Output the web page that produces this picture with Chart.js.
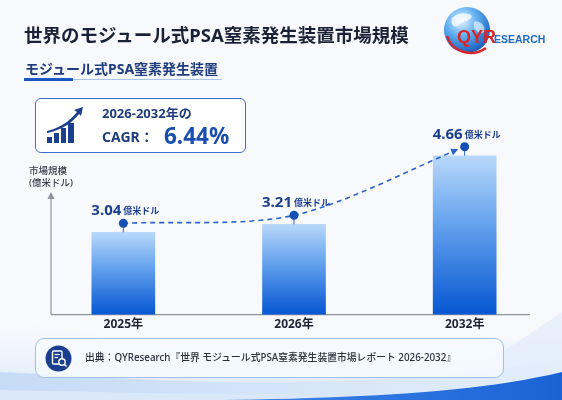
<!DOCTYPE html>
<html>
<head>
<meta charset="utf-8">
<script src="https://cdn.jsdelivr.net/npm/chart.js@4.4.1/dist/chart.umd.min.js"></script>
<style>
  html, body { margin: 0; padding: 0; }
  body { width: 562px; height: 400px; position: relative; overflow: hidden; background: #f8f9fc;
         font-family: "Noto Sans", "Noto Sans CJK JP", sans-serif; }
  .abs { position: absolute; white-space: nowrap; }
  #bg { position: absolute; left: 0; top: 0; }
  #chart { position: absolute; left: 0; top: 0; }
  .title { left: 24px; top: 24px; font-size: 18.5px; line-height: 22px; font-weight: 700; color: #1a2238; }
  .sub { left: 25px; top: 60px; font-size: 14px; line-height: 17px; font-weight: 700; color: #1f3c7e; }
  .subline { left: 24px; top: 79px; width: 198px; height: 1px; background: #a9c3ea; }
  .subline2 { left: 24px; top: 78px; width: 49px; height: 3px; background: #1c56c0; }
  .cagr { left: 35px; top: 98px; width: 209px; height: 53px; border: 1.3px solid #3b6fcf; border-radius: 6px; background: #fff; }
  .c1 { left: 102px; top: 105px; font-size: 13px; line-height: 17px; font-weight: 700; color: #1f3c7e; }
  .c2 { left: 102px; top: 128px; font-size: 14px; line-height: 18px; font-weight: 700; color: #1f3c7e; }
  .c3 { left: 164px; top: 122px; font-size: 22.5px; line-height: 27px; font-weight: 700; color: #1a4fb0; }
  .ytitle { left: 29px; font-size: 9.5px; line-height: 12px; color: #3a3f4a; font-weight: 500; }
  .foot { left: 35px; top: 338px; width: 467px; height: 38px; border: 1px solid #9fc0ee; border-radius: 9px; background: rgba(246,250,255,0.85); }
  .ftext { left: 85px; top: 351px; font-size: 9.8px; line-height: 14px; color: #2a2f3a; font-weight: 500; }
  .logo1 { left: 457px; top: 27px; font-family: "Liberation Sans", Arial, sans-serif; font-weight: 700; font-size: 18px; line-height: 20px; color: #d7262b; }
  .logo2 { left: 494px; top: 33px; font-family: "Liberation Sans", Arial, sans-serif; font-weight: 700; font-size: 10.5px; line-height: 12px; color: #1e6cc4; }
</style>
</head>
<body>
<svg id="bg" width="562" height="400">
  <defs>
    <linearGradient id="w1" x1="0" y1="0" x2="0" y2="1">
      <stop offset="0" stop-color="#eef4fd" stop-opacity="0"/>
      <stop offset="1" stop-color="#d5e5fa"/>
    </linearGradient>
    <linearGradient id="w2" x1="0" y1="0" x2="1" y2="0">
      <stop offset="0" stop-color="#c6dbf6"/>
      <stop offset="1" stop-color="#e4eefb"/>
    </linearGradient>
    <linearGradient id="w3" x1="0" y1="0" x2="1" y2="0">
      <stop offset="0" stop-color="#3f86e8"/>
      <stop offset="1" stop-color="#1a63d6"/>
    </linearGradient>
    <radialGradient id="globe" cx="0.38" cy="0.3" r="0.75">
      <stop offset="0" stop-color="#e6f3ff"/>
      <stop offset="0.45" stop-color="#5fb0f0"/>
      <stop offset="1" stop-color="#1456b8"/>
    </radialGradient>
  </defs>
  <path d="M0,318 C120,335 260,392 562,330 L562,400 L0,400 Z" fill="url(#w1)"/>
  <path d="M380,400 C470,380 520,340 562,312 L562,400 Z" fill="#e3eefb" opacity="0.8"/>
  <path d="M0,372 C160,380 330,396 562,360 L562,400 L0,400 Z" fill="url(#w2)"/>
  <path d="M0,390 C200,394 380,400 562,386 L562,400 L0,400 Z" fill="#dbe8fa"/>
  <path d="M220,400 C360,398 480,392 562,372 L562,400 Z" fill="url(#w3)"/>
  <circle cx="467" cy="30" r="23" fill="url(#globe)"/>
  <path d="M452,18 C458,12 468,12 472,16 C470,22 462,20 458,26 C454,28 450,24 452,18 Z" fill="#ffffff" opacity="0.75"/>
  <path d="M474,22 C480,20 486,26 484,32 C480,36 476,30 474,28 Z" fill="#ffffff" opacity="0.6"/>
  <path d="M447,36 C452,52 472,58 486,48" fill="none" stroke="#d7262b" stroke-width="2.5"/>
</svg>
<canvas id="chart" width="562" height="400"></canvas>

<div class="abs title">世界のモジュール式PSA窒素発生装置市場規模</div>
<div class="abs sub">モジュール式PSA窒素発生装置</div>
<div class="abs subline"></div>
<div class="abs subline2"></div>
<div class="abs cagr"></div>
<svg class="abs" style="left:44px;top:104px" width="44" height="44">
  <g fill="#1b3f8f">
    <rect x="3" y="33" width="5" height="6"/>
    <rect x="10" y="29" width="5" height="10"/>
    <rect x="17" y="24" width="5" height="15"/>
    <rect x="24" y="19" width="6" height="20"/>
    <path d="M3,27 C16,24 26,17 33,8 L30,6 L39,3 L37,12 L35,10 C28,19 18,26 3,29 Z"/>
  </g>
</svg>
<div class="abs c1">2026-2032年の</div>
<div class="abs c2">CAGR：</div>
<div class="abs c3">6.44%</div>
<div class="abs ytitle" style="top:165px">市場規模</div>
<div class="abs ytitle" style="top:177px">(億米ドル)</div>
<div class="abs logo1">QYR</div>
<div class="abs logo2">ESEARCH</div>
<div class="abs foot"></div>
<svg class="abs" style="left:45px;top:345px" width="27" height="27">
  <circle cx="13.5" cy="13.5" r="13" fill="#1b3f8f"/>
  <rect x="7.5" y="6" width="9.5" height="13" rx="1" fill="none" stroke="#fff" stroke-width="1.4"/>
  <line x1="9.5" y1="9.5" x2="15" y2="9.5" stroke="#fff" stroke-width="1.2"/>
  <line x1="9.5" y1="12.5" x2="13" y2="12.5" stroke="#fff" stroke-width="1.2"/>
  <circle cx="17" cy="17" r="3.2" fill="#1b3f8f" stroke="#fff" stroke-width="1.4"/>
  <line x1="19.3" y1="19.3" x2="21.5" y2="21.5" stroke="#fff" stroke-width="1.6"/>
</svg>
<div class="abs ftext">出典：QYResearch『世界 モジュール式PSA窒素発生装置市場レポート 2026-2032』</div>

<script>
// データ
var years = ['2025年', '2026年', '2032年'];
var marketSize = [3.04, 3.21, 4.66];
var unitLabel = '億米ドル';

var DOT_LIFT = 9;
var navy = '#1b3f8f';

var decorPlugin = {
  id: 'decor',
  beforeDatasetsDraw: function (chart) {
    var ctx = chart.ctx, a = chart.chartArea;
    var x0 = a.left + 13, x1 = a.right - 20, yb = a.bottom;
    ctx.save();
    ctx.strokeStyle = '#8d939c';
    ctx.lineWidth = 1.2;
    ctx.beginPath();
    ctx.moveTo(x0, yb);
    ctx.lineTo(x1, yb);
    ctx.moveTo(x0, yb);
    ctx.lineTo(x0, 196);
    ctx.stroke();
    ctx.fillStyle = '#8d939c';
    ctx.beginPath();
    ctx.moveTo(x0, 192);
    ctx.lineTo(x0 - 3.5, 199);
    ctx.lineTo(x0 + 3.5, 199);
    ctx.closePath();
    ctx.fill();
    ctx.restore();
  },
  beforeDatasetDraw: function (chart, args) {
    if (args.index !== 1) return;
    var ctx = chart.ctx;
    var bars = chart.getDatasetMeta(0).data;
    var pts = chart.getDatasetMeta(1).data;
    ctx.save();
    ctx.strokeStyle = '#2a63c9';
    ctx.lineWidth = 1;
    pts.forEach(function (p, i) {
      ctx.beginPath();
      ctx.moveTo(bars[i].x, bars[i].y);
      ctx.lineTo(p.x, p.y - DOT_LIFT);
      ctx.stroke();
    });
    ctx.restore();
    ctx.save();
    ctx.translate(0, -DOT_LIFT);
  },
  afterDatasetDraw: function (chart, args) {
    if (args.index !== 1) return;
    chart.ctx.restore();
  },
  afterDatasetsDraw: function (chart) {
    var ctx = chart.ctx;
    var pts = chart.getDatasetMeta(1).data;
    // arrow head before the last point
    var last = pts[pts.length - 1];
    var dx = last.x - last.cp1x, dy = last.y - last.cp1y;
    var len = Math.sqrt(dx * dx + dy * dy) || 1;
    dx /= len; dy /= len;
    var tx = last.x - dx * 7, ty = last.y - DOT_LIFT - dy * 7;
    ctx.save();
    ctx.fillStyle = '#2a63c9';
    ctx.beginPath();
    ctx.moveTo(tx, ty);
    ctx.lineTo(tx - dx * 7 - dy * 3.5, ty - dy * 7 + dx * 3.5);
    ctx.lineTo(tx - dx * 7 + dy * 3.5, ty - dy * 7 - dx * 3.5);
    ctx.closePath();
    ctx.fill();
    // value labels
    ctx.fillStyle = navy;
    ctx.textBaseline = 'alphabetic';
    pts.forEach(function (p, i) {
      var num = marketSize[i].toFixed(2);
      ctx.font = '700 15px "Noto Sans", sans-serif';
      var w1 = ctx.measureText(num).width;
      ctx.font = '700 9px "Noto Sans CJK JP", sans-serif';
      var w2 = ctx.measureText(unitLabel).width;
      var sx = p.x - (w1 + 2 + w2) / 2 + 2;
      var by = p.y - DOT_LIFT - 8;
      ctx.font = '700 15px "Noto Sans", sans-serif';
      ctx.fillText(num, sx, by);
      ctx.font = '700 9px "Noto Sans CJK JP", sans-serif';
      ctx.fillText(unitLabel, sx + w1 + 2, by - 1);
    });
    ctx.restore();
  }
};

function barGradient(c) {
  var chart = c.chart, area = chart.chartArea;
  if (!area || c.raw === undefined) return '#5a9bec';
  var top = chart.scales.y.getPixelForValue(c.raw);
  var g = chart.ctx.createLinearGradient(0, top, 0, area.bottom);
  g.addColorStop(0, '#b9d8fa');
  g.addColorStop(0.4, '#6aa6ef');
  g.addColorStop(1, '#0556d2');
  return g;
}

var chart = new Chart(document.getElementById('chart').getContext('2d'), {
  data: {
    labels: years,
    datasets: [{
      type: 'bar',
      data: marketSize,
      backgroundColor: barGradient,
      barThickness: 63,
      order: 1
    }, {
      type: 'line',
      data: marketSize,
      borderColor: '#2a63c9',
      borderWidth: 1.6,
      borderDash: [5, 4],
      tension: 0.3,
      fill: false,
      pointRadius: 4.5,
      pointBackgroundColor: '#1750b4',
      pointBorderWidth: 0,
      order: 0
    }]
  },
  options: {
    responsive: false,
    animation: false,
    events: [],
    layout: { padding: { top: 116, left: 38, right: 12, bottom: 65 } },
    plugins: { legend: { display: false }, tooltip: { enabled: false } },
    scales: {
      x: {
        grid: { display: false, drawTicks: false },
        border: { display: false },
        ticks: { padding: 3, color: '#1d2433', font: { size: 12, weight: '700', family: '"Noto Sans", "Noto Sans CJK JP", sans-serif' } }
      },
      y: { display: false, min: 1.3, max: 5.5 }
    }
  },
  plugins: [decorPlugin]
});
</script>
</body>
</html>
